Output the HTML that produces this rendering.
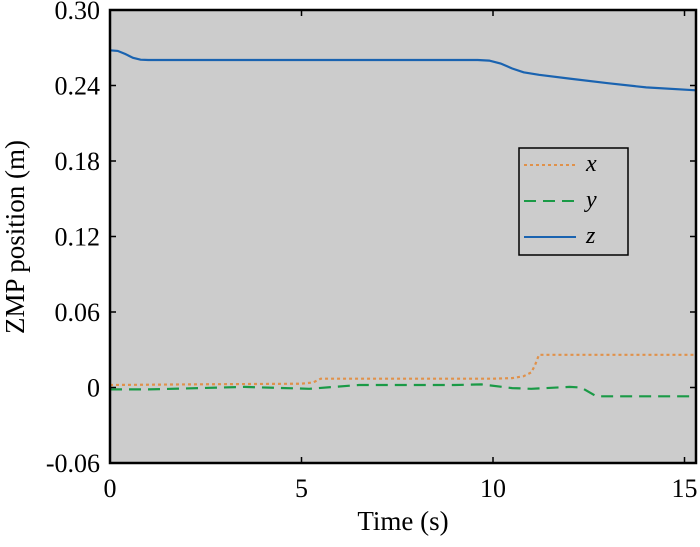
<!DOCTYPE html>
<html><head><meta charset="utf-8"><style>
body{margin:0;background:#fff;}
svg text{font-family:"Liberation Serif",serif;fill:#000;}
</style></head><body>
<svg id="chart" width="700" height="542"></svg>
<script>
const xTicks=[0,5,10,15];
const yTicks=[-0.06,0,0.06,0.12,0.18,0.24,0.30];
const yTickLabels=["-0.06","0","0.06","0.12","0.18","0.24","0.30"];
const tZ=[0,0.2,0.4,0.6,0.8,1,5,9.6,9.9,10.2,10.5,10.8,11.2,12,13,14,15.3];
const zVals=[0.268,0.2675,0.265,0.262,0.2605,0.2603,0.2603,0.2603,0.2598,0.2575,0.2535,0.2505,0.2485,0.2455,0.2418,0.2385,0.2362];
const tX=[0,2,5,5.3,5.5,8,10,10.5,10.8,11,11.1,11.2,15.3];
const xVals=[0.002,0.0025,0.003,0.004,0.007,0.007,0.007,0.0075,0.009,0.012,0.018,0.026,0.026];
const tY=[0,1,3.5,5.2,6.5,9,9.7,10.5,11,12,12.3,12.7,15.3];
const yVals=[-0.0015,-0.0015,0.0005,-0.001,0.002,0.002,0.0025,-0.0005,-0.001,0.0005,0,-0.007,-0.007];
const L=110,R=696,T=10,B=463,X0=0,X1=15.3,Y0=-0.06,Y1=0.30;
const sx=v=>L+(v-X0)/(X1-X0)*(R-L), sy=v=>B-(v-Y0)/(Y1-Y0)*(B-T);
const svg=document.getElementById('chart');const NS='http://www.w3.org/2000/svg';
function mk(tag,attrs,parent){const e=document.createElementNS(NS,tag);for(const k in attrs)e.setAttribute(k,attrs[k]);(parent||svg).appendChild(e);return e;}
const bg=mk('rect',{x:L,y:T,width:R-L,height:B-T,fill:'#cccccc'});


function line(ts,vs,color,dash,name){const d=ts.map((t,i)=>(i?'L':'M')+sx(t).toFixed(1)+' '+sy(vs[i]).toFixed(1)).join(' ');
const p=mk('path',{d:d,fill:'none',stroke:color,'stroke-width':2.2,'stroke-dasharray':dash});

}
line(tX,xVals,'#e0914a','3 3','series-x');
line(tY,yVals,'#1a9a46','12 7','series-y');
line(tZ,zVals,'#1a63b0','','series-z');
const frame=mk('rect',{x:L,y:T,width:R-L,height:B-T,fill:'none',stroke:'#000','stroke-width':2.5});


xTicks.forEach(v=>{const x=sx(v);mk('line',{x1:x,x2:x,y1:B,y2:B-6,stroke:'#000','stroke-width':1.5});mk('line',{x1:x,x2:x,y1:T,y2:T+6,stroke:'#000','stroke-width':1.5});
const t=mk('text',{x:x,y:B+34,'font-size':26,'text-anchor':'middle'});t.textContent=v;

});
yTicks.forEach((v,i)=>{const y=sy(v);mk('line',{x1:L,x2:L+6,y1:y,y2:y,stroke:'#000','stroke-width':1.5});mk('line',{x1:R,x2:R-6,y1:y,y2:y,stroke:'#000','stroke-width':1.5});
const t=mk('text',{x:L-10,y:y+9,'font-size':26,'text-anchor':'end'});t.textContent=yTickLabels[i];

});
const xt=mk('text',{x:403,y:530,'font-size':27,'text-anchor':'middle'});xt.textContent='Time (s)';


const yt=mk('text',{x:0,y:0,'font-size':27,'text-anchor':'middle',transform:'translate(24,237) rotate(-90)'});yt.textContent='ZMP position (m)';


const lg=mk('g',{});


mk('rect',{x:519,y:148,width:109,height:107,fill:'#cccccc',stroke:'#000','stroke-width':1.5},lg);
[['x','#e0914a','3 3',165],['y','#1a9a46','12 7',201],['z','#1a63b0','',237]].forEach(([n,c,d,y])=>{
mk('line',{x1:524,x2:576,y1:y,y2:y,stroke:c,'stroke-width':2,'stroke-dasharray':d},lg);
const t=mk('text',{x:586,y:y+6,'font-size':24,'font-style':'italic'},lg);t.textContent=n;

});
</script>
</body></html>
